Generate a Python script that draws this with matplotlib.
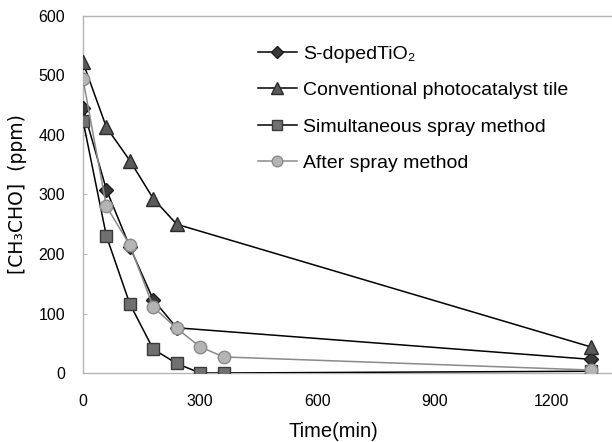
import matplotlib
matplotlib.use("Agg")
import matplotlib.pyplot as plt

plt.rcParams['font.family'] = ['Liberation Sans', 'DejaVu Sans']

time_s = [0, 60, 120, 180, 240, 1300]
s_doped = [445, 308, 212, 123, 76, 23]

time_c = [0, 60, 120, 180, 240, 1300]
conventional = [522, 413, 357, 293, 250, 44]

time_sim = [0, 60, 120, 180, 240, 300, 360, 1300]
simultaneous = [424, 230, 116, 40, 16, 0, 0, 3]

time_a = [0, 60, 120, 180, 240, 300, 360, 1300]
after = [494, 280, 215, 111, 75, 44, 27, 5]

labels = ["S-dopedTiO₂", "Conventional photocatalyst tile",
          "Simultaneous spray method", "After spray method"]
xticks = [0, 300, 600, 900, 1200]
yticks = [0, 100, 200, 300, 400, 500, 600]

fig = plt.figure(figsize=(6.12, 4.42), dpi=100)
ax = fig.add_axes([83/612, 1-373/442, 1-83/612, (373-16)/442])

ax.plot(time_s, s_doped, color='black', lw=1.1, marker='D', ms=7,
        mfc='#3a3a3a', mec='#1a1a1a', label=labels[0], zorder=3)
ax.plot(time_c, conventional, color='black', lw=1.1, marker='^', ms=10,
        mfc='#5a5a5a', mec='#2a2a2a', label=labels[1], zorder=3)
ax.plot(time_sim, simultaneous, color='black', lw=1.1, marker='s', ms=9,
        mfc='#707070', mec='#3a3a3a', label=labels[2], zorder=3)
ax.plot(time_a, after, color='#8a8a8a', lw=1.1, marker='o', ms=9,
        mfc='#b4b4b4', mec='#8a8a8a', label=labels[3], zorder=4)

ax.set_xlim(0, 1355)
ax.set_ylim(0, 600)
ax.set_xticks(xticks)
ax.set_yticks(yticks)
ax.tick_params(axis='both', labelsize=11.5, length=3, direction='in', color='#bbbbbb')
ax.tick_params(axis='x', length=0, pad=15)
ax.tick_params(axis='y', pad=13)
for side in ['left', 'top', 'bottom']:
    ax.spines[side].set_color('#b5b5b5')
    ax.spines[side].set_linewidth(1.0)
ax.spines['right'].set_visible(False)

ax.set_xlabel("Time(min)", fontsize=14.5)
ax.xaxis.set_label_coords((333-83)/529, (373-422)/357)
ax.set_ylabel("[CH₃CHO]  (ppm)", fontsize=13.5, family=['DejaVu Sans'])
ax.yaxis.set_label_coords((27-83)/529, 0.5)

leg = ax.legend(loc='upper left', bbox_to_anchor=(258/612, 1-45/442),
                bbox_transform=fig.transFigure, frameon=False,
                fontsize=14, handlelength=2.0, handletextpad=0.3,
                labelspacing=0.97, borderaxespad=0, borderpad=0,
                markerscale=0.85)

fig.savefig("out.png", dpi=100)
